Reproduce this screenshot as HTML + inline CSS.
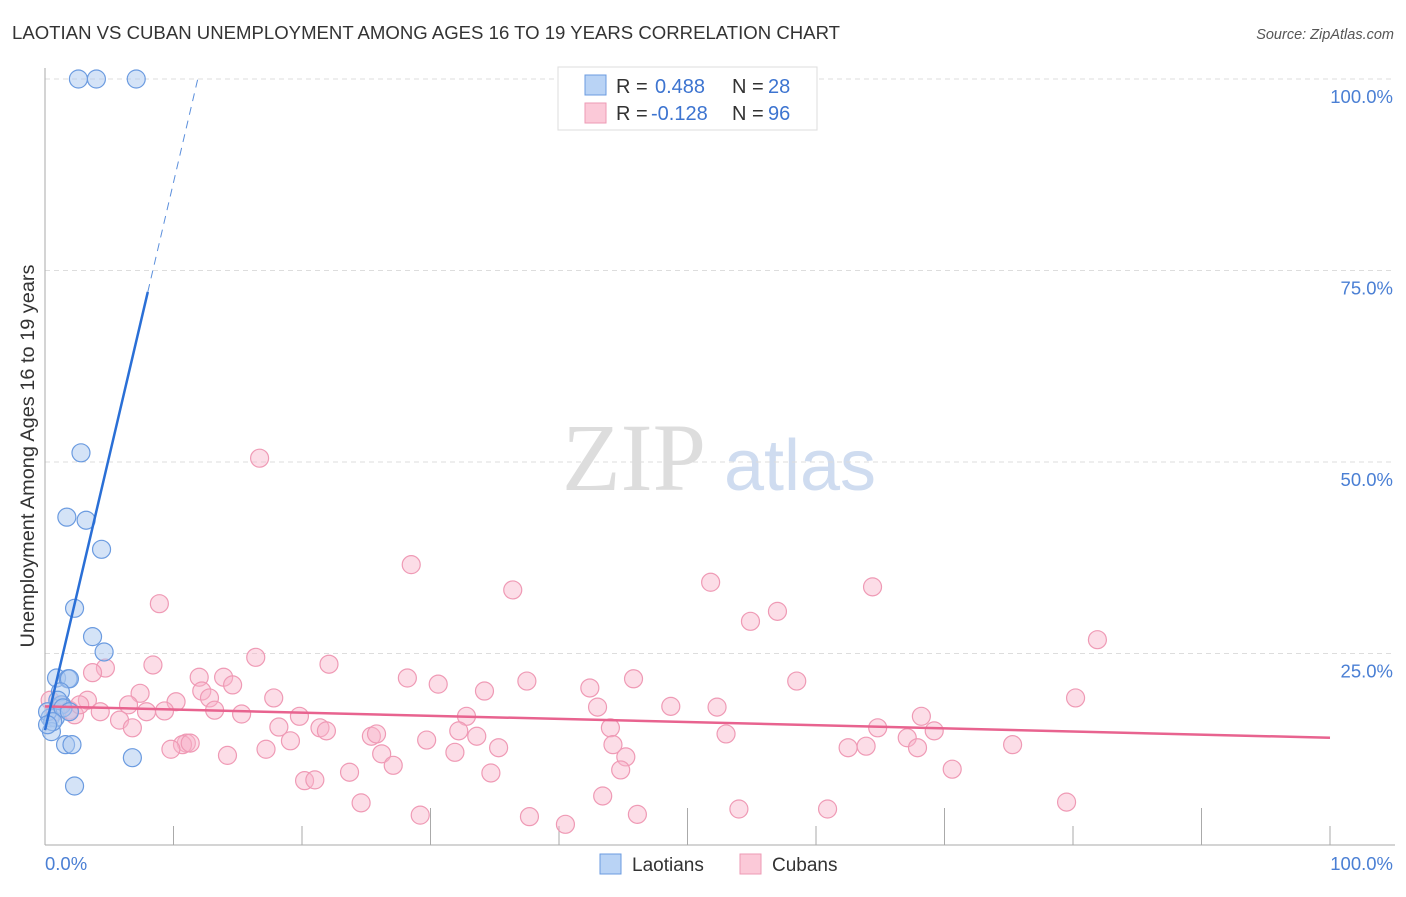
<!DOCTYPE html>
<html><head><meta charset="utf-8"><style>
body{margin:0;background:#fff;font-family:"Liberation Sans",sans-serif;}
</style></head><body>
<svg width="1406" height="892" xmlns="http://www.w3.org/2000/svg" id="chart">
<text x="12" y="39" font-size="18" fill="#333" textLength="828" lengthAdjust="spacingAndGlyphs">LAOTIAN VS CUBAN UNEMPLOYMENT AMONG AGES 16 TO 19 YEARS CORRELATION CHART</text>
<text x="1394" y="39" font-size="14.5" fill="#555" font-style="italic" text-anchor="end">Source: ZipAtlas.com</text>
<g>
<text x="634" y="490" font-size="96" fill="#ddd" font-family="Liberation Serif,serif" text-anchor="middle">ZIP</text>
<text x="800" y="490" font-size="72" fill="#cfdcf0" text-anchor="middle">atlas</text>
</g>
<g id="grid"></g>
<g id="axes"></g>
<g id="marks"></g>
<text transform="translate(34,456) rotate(-90)" font-size="19" fill="#333" text-anchor="middle" textLength="383" lengthAdjust="spacingAndGlyphs">Unemployment Among Ages 16 to 19 years</text>
<text x="45" y="870" font-size="18.5" fill="#4a7fd4">0.0%</text>
<text x="1393" y="870" font-size="18.5" fill="#4a7fd4" text-anchor="end">100.0%</text>
<g>
<rect x="558" y="67" width="259" height="63" fill="#fff" stroke="#ddd"/>
<rect x="585" y="75" width="21" height="20" fill="#b9d3f5" stroke="#6b9be0"/>
<rect x="585" y="103" width="21" height="20" fill="#fbc9d8" stroke="#ee9ab4"/>
<text x="616" y="93" font-size="20" fill="#333">R = </text><text x="655" y="93" font-size="20" fill="#3d74d0">0.488</text>
<text x="732" y="93" font-size="20" fill="#333">N = </text><text x="768" y="93" font-size="20" fill="#3d74d0">28</text>
<text x="616" y="120" font-size="20" fill="#333">R = </text><text x="651" y="120" font-size="20" fill="#3d74d0">-0.128</text>
<text x="732" y="120" font-size="20" fill="#333">N = </text><text x="768" y="120" font-size="20" fill="#3d74d0">96</text>
</g>
<g>
<rect x="600" y="854" width="21" height="20" fill="#b9d3f5" stroke="#6b9be0"/>
<text x="632" y="871" font-size="19" fill="#333">Laotians</text>
<rect x="740" y="854" width="21" height="20" fill="#fbc9d8" stroke="#ee9ab4"/>
<text x="772" y="871" font-size="19" fill="#333">Cubans</text>
</g>
</svg>
<script>
const yTicks=[25,50,75,100];
const yTickLabels=["25.0%","50.0%","75.0%","100.0%"];
const xTicks=[10,20,30,40,50,60,70,80,90,100];
const laoX=[2.6,4.0,7.1,2.8,1.7,3.2,4.4,2.3,3.7,4.6,0.9,1.8,1.9,1.2,1.3,0.4,0.8,0.5,1.6,2.1,2.3,6.8,0.2,1.0,1.4,0.6,0.2,1.9];
const laoY=[100,100,100,51.2,42.8,42.4,38.6,30.9,27.2,25.2,21.8,21.7,21.7,20.0,18.3,16.6,16.6,14.8,13.1,13.1,7.7,11.4,17.4,18.9,17.9,16.1,15.7,17.4];
const cubX=[16.7,28.5,36.4,51.8,64.4,8.9,57.0,54.9,81.9,16.4,8.4,22.1,4.7,3.7,12.0,13.9,14.6,28.2,30.6,37.5,45.8,58.5,42.4,34.2,12.2,7.4,3.3,10.2,12.8,17.8,80.2,43.0,48.7,52.3,13.2,9.3,6.5,4.3,7.9,15.3,19.8,32.8,68.2,5.8,18.2,21.4,21.9,44.0,64.8,69.2,32.2,6.8,25.4,25.8,19.1,29.7,33.6,53.0,67.1,11.0,10.7,11.3,44.2,17.2,35.3,31.9,62.5,63.9,67.9,75.3,9.8,14.2,26.2,27.1,45.2,23.7,34.7,44.8,70.6,20.2,21.0,43.4,24.6,79.5,54.0,60.9,29.2,37.7,46.1,40.5,1.2,1.9,2.3,0.4,0.8,2.7];
const cubY=[50.5,36.6,33.3,34.3,33.7,31.5,30.5,29.2,26.8,24.5,23.5,23.6,23.1,22.5,21.9,21.9,20.9,21.8,21.0,21.4,21.7,21.4,20.5,20.1,20.1,19.8,18.9,18.7,19.2,19.2,19.2,18.0,18.1,18.0,17.6,17.5,18.3,17.4,17.4,17.1,16.8,16.8,16.8,16.3,15.4,15.3,14.9,15.3,15.3,14.9,14.9,15.3,14.2,14.5,13.6,13.7,14.2,14.5,14.0,13.3,13.1,13.3,13.1,12.5,12.7,12.1,12.7,12.9,12.7,13.1,12.5,11.7,11.9,10.4,11.5,9.5,9.4,9.8,9.9,8.4,8.5,6.4,5.5,5.6,4.7,4.7,3.9,3.7,4.0,2.7,18.3,17.6,17.0,18.9,17.4,18.3];
const laoFit=[15.0,7.15]; // intercept, slope
const cubFit=[18.1,-0.041];
const X0=45,X1=1330,Y0=845,Y1=79;
const sx=v=>X0+(X1-X0)*v/100, sy=v=>Y0-(Y0-Y1)*v/100;
const NS="http://www.w3.org/2000/svg";
function mk(tag,attrs,parent){const e=document.createElementNS(NS,tag);for(const k in attrs)e.setAttribute(k,attrs[k]);document.getElementById(parent).appendChild(e);return e;}
yTicks.forEach((t,i)=>{
 const g=mk('line',{x1:X0,x2:1395,y1:sy(t),y2:sy(t),stroke:'#ddd','stroke-dasharray':'5,4'},'grid');
 
 
 const l=mk('text',{x:1393,y:sy(t)+24,'font-size':18.5,fill:'#4a7fd4','text-anchor':'end'},'grid');
 l.textContent=yTickLabels[i];
 
 
});
const ya=mk('line',{x1:X0,x2:X0,y1:68,y2:Y0,stroke:'#aaa'},'axes');


const xa=mk('line',{x1:X0,x2:1395,y1:Y0,y2:Y0,stroke:'#aaa'},'axes');


xTicks.forEach((t,i)=>{
 const long=(i%2===0&&i>0);
 const tk=mk('line',{x1:sx(t),x2:sx(t),y1:long?808:826,y2:Y0,stroke:'#aaa'},'axes');
 
 
});
cubX.forEach((x,i)=>{
 const c=mk('circle',{cx:sx(x),cy:sy(cubY[i]),r:9,fill:'rgba(248,180,202,0.45)',stroke:'#ef9ab5','stroke-width':1.2},'marks');
 
 
});
laoX.forEach((x,i)=>{
 const c=mk('circle',{cx:sx(x),cy:sy(laoY[i]),r:9,fill:'rgba(170,200,240,0.5)',stroke:'#6b9be0','stroke-width':1.2},'marks');
 
 
});
const cl=mk('line',{x1:sx(0),y1:sy(cubFit[0]),x2:sx(100),y2:sy(cubFit[0]+cubFit[1]*100),stroke:'#e8638f','stroke-width':2.5},'marks');


const xs=8, xe=(100-laoFit[0])/laoFit[1];
const ll=mk('line',{x1:sx(0),y1:sy(laoFit[0]),x2:sx(xs),y2:sy(laoFit[0]+laoFit[1]*xs),stroke:'#2a6fd6','stroke-width':2.5},'marks');


const ld=mk('line',{x1:sx(xs),y1:sy(laoFit[0]+laoFit[1]*xs),x2:sx(xe),y2:sy(100),stroke:'#5b8fdc','stroke-width':1,'stroke-dasharray':'8,6'},'marks');


</script>
</body></html>
